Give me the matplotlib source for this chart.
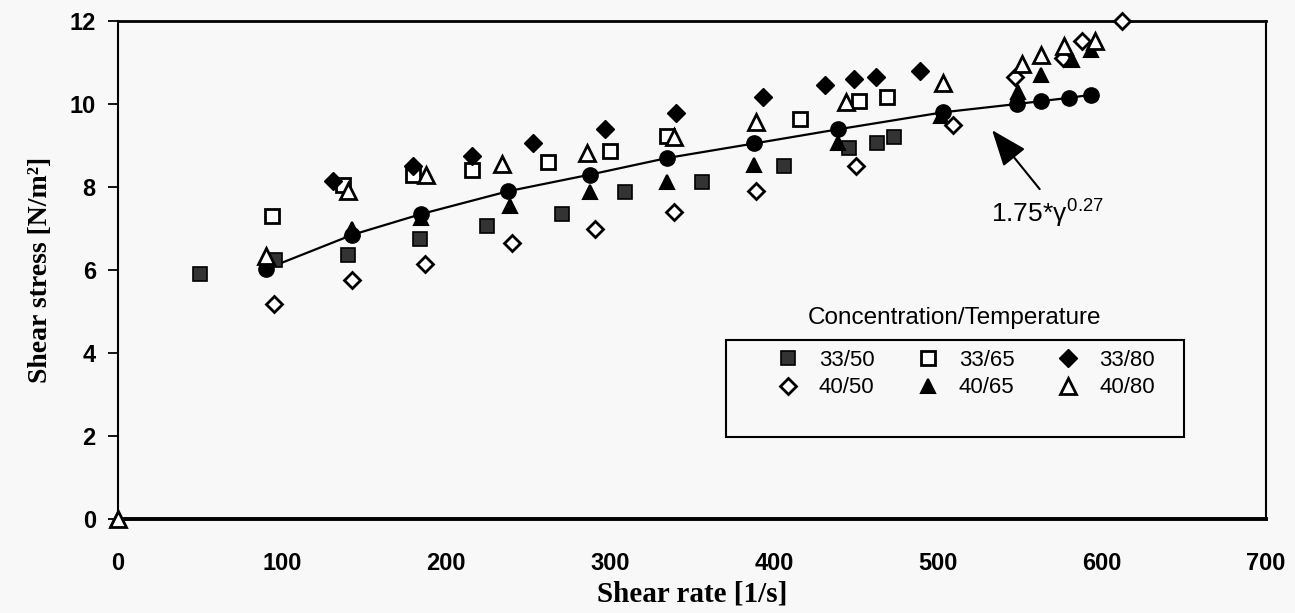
import matplotlib
matplotlib.use("Agg")
import matplotlib.pyplot as plt
from matplotlib.patches import Rectangle

# data
x_33_50 = [50, 96, 140, 184, 225, 271, 309, 356, 406, 446, 463, 473]
y_33_50 = [5.9, 6.24, 6.37, 6.75, 7.07, 7.34, 7.88, 8.12, 8.51, 8.95, 9.07, 9.2]

x_33_65 = [94, 137, 180, 216, 262, 300, 335, 416, 452, 469]
y_33_65 = [7.3, 8.05, 8.3, 8.4, 8.6, 8.88, 9.24, 9.63, 10.07, 10.17]

x_33_80 = [131, 180, 216, 253, 297, 340, 393, 431, 449, 462, 489]
y_33_80 = [8.15, 8.5, 8.75, 9.05, 9.4, 9.78, 10.17, 10.46, 10.6, 10.65, 10.8]

x_40_50 = [95, 143, 187, 240, 291, 339, 389, 450, 509, 547, 576, 588, 612]
y_40_50 = [5.17, 5.75, 6.15, 6.65, 7.0, 7.39, 7.9, 8.5, 9.5, 10.66, 11.1, 11.53, 12.0]

x_40_65 = [0, 143, 185, 239, 288, 335, 388, 439, 502, 549, 563, 582, 593]
y_40_65 = [0, 7.0, 7.25, 7.55, 7.88, 8.12, 8.54, 9.07, 9.7, 10.3, 10.7, 11.05, 11.3]

x_40_80 = [0, 90, 140, 188, 234, 286, 339, 389, 444, 503, 551, 563, 577, 596]
y_40_80 = [0, 6.35, 7.9, 8.3, 8.55, 8.83, 9.2, 9.56, 10.05, 10.5, 10.97, 11.17, 11.4, 11.53]

# fitted curve points (filled circles)
x_fit = [90, 143, 185, 238, 288, 335, 388, 439, 503, 548, 563, 580, 593]
y_fit = [6.02, 6.85, 7.35, 7.9, 8.3, 8.7, 9.05, 9.39, 9.8, 10.0, 10.07, 10.15, 10.22]

x_ticks = [0, 100, 200, 300, 400, 500, 600, 700]
y_ticks = [0, 2, 4, 6, 8, 10, 12]

plt.rcParams['mathtext.fontset'] = 'custom'
plt.rcParams['mathtext.rm'] = 'Liberation Sans'
plt.rcParams['mathtext.it'] = 'Liberation Sans'

bg = '#f8f8f8'
fig = plt.figure(figsize=(12.95, 6.13), dpi=100, facecolor=bg)
ax = fig.add_axes([0.0911, 0.1533, 0.8865, 0.8124], facecolor=bg)

sans = ['Liberation Sans', 'DejaVu Sans']
serif = ['Liberation Serif', 'DejaVu Serif']

ax.plot(x_fit, y_fit, '-', color='black', lw=1.6, marker='o', markersize=11,
        zorder=3, clip_on=False)

mew = 2.0
h1, = ax.plot(x_33_50, y_33_50, ls='none', marker='s', markersize=10,
              mfc='#333333', mec='black', mew=1.2, label='33/50', zorder=4, clip_on=False)
h2, = ax.plot(x_33_65, y_33_65, ls='none', marker='s', markersize=10,
              mfc='white', mec='black', mew=mew, label='33/65', zorder=4, clip_on=False)
h3, = ax.plot(x_33_80, y_33_80, ls='none', marker='D', markersize=9,
              mfc='black', mec='black', mew=1, label='33/80', zorder=4, clip_on=False)
h4, = ax.plot(x_40_50, y_40_50, ls='none', marker='D', markersize=8,
              mfc='white', mec='black', mew=mew, label='40/50', zorder=4, clip_on=False)
h5, = ax.plot(x_40_65, y_40_65, ls='none', marker='^', markersize=10,
              mfc='black', mec='black', mew=1.5, label='40/65', zorder=4, clip_on=False)
h6, = ax.plot(x_40_80, y_40_80, ls='none', marker='^', markersize=11,
              mfc='white', mec='black', mew=mew, label='40/80', zorder=4, clip_on=False)

ax.set_xlim(0, 700)
ax.set_ylim(0, 12)
ax.set_xticks(x_ticks)
ax.set_yticks(y_ticks)
ax.tick_params(axis='x', length=0, pad=24)
ax.tick_params(axis='y', direction='out', length=7, width=1.3, pad=9)
for lab in ax.get_xticklabels() + ax.get_yticklabels():
    lab.set_family(sans)
    lab.set_fontsize(17)
    lab.set_fontweight('bold')

ax.spines['bottom'].set_linewidth(2.8)
ax.spines['top'].set_linewidth(2.0)
ax.spines['left'].set_linewidth(1.5)
ax.spines['right'].set_linewidth(1.5)

ax.set_xlabel('Shear rate [1/s]', family=serif, fontsize=21,
              fontweight='bold', labelpad=4)
ax.set_ylabel('Shear stress [N/m²]', family=serif, fontsize=20,
              fontweight='bold', labelpad=12)

# arrow + label for the fit
ax.annotate('', xy=(533, 9.37), xytext=(562, 7.95),
            arrowprops=dict(arrowstyle='-|>,head_length=0.9,head_width=0.35',
                            color='black', lw=1.5, mutation_scale=25,
                            shrinkA=0, shrinkB=0))
ax.text(567, 7.35, '1.75*$\\gamma^{0.27}$', ha='center', va='center',
        fontsize=19, family=sans)

# legend: title above a separate box
ax.add_patch(Rectangle((0.53, 0.165), 0.399, 0.194, transform=ax.transAxes,
                       fill=False, lw=1.5, edgecolor='black', zorder=5))
ax.text(0.729, 0.403, 'Concentration/Temperature', transform=ax.transAxes,
        ha='center', va='center', fontsize=17.5, family=sans)
ax.legend(handles=[h1, h4, h2, h5, h3, h6], ncol=3, frameon=False,
          loc='upper left', bbox_to_anchor=(0.566, 0.358),
          prop={'family': sans, 'size': 16}, handlelength=1.0,
          handletextpad=0.9, columnspacing=1.9, labelspacing=0.3,
          borderaxespad=0)

fig.savefig('out.png', dpi=100, facecolor=bg)
